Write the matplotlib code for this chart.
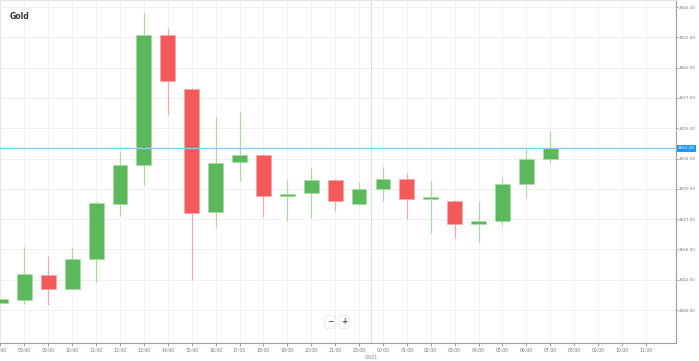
import numpy as np
import matplotlib.pyplot as plt

# --- hourly gold candles ---
hours = ["07:00", "08:00", "09:00", "10:00", "11:00", "12:00", "13:00", "14:00",
         "15:00", "16:00", "17:00", "18:00", "19:00", "20:00", "21:00", "23:00",
         "00:00", "01:00", "02:00", "03:00", "04:00", "05:00", "06:00", "07:00"]
opens = [2640.58, 2640.83, 2642.89, 2641.73, 2644.21, 2648.75, 2651.96, 2662.69,
         2658.23, 2648.09, 2652.21, 2652.79, 2649.41, 2649.65, 2650.73, 2648.75,
         2649.98, 2650.81, 2649.16, 2648.99, 2647.10, 2647.34, 2650.40, 2652.46]
highs = [2640.95, 2645.20, 2644.46, 2645.12, 2648.99, 2653.12, 2664.50, 2663.27,
         2658.30, 2655.92, 2656.34, 2652.85, 2650.73, 2651.72, 2650.80, 2650.56,
         2651.80, 2651.30, 2650.64, 2649.05, 2648.99, 2650.97, 2653.37, 2654.77]
lows = [2640.55, 2640.50, 2640.41, 2641.70, 2642.31, 2647.76, 2650.31, 2656.09,
        2642.48, 2646.85, 2650.64, 2647.67, 2647.34, 2647.59, 2648.17, 2648.70,
        2648.99, 2647.51, 2646.35, 2645.94, 2645.61, 2647.01, 2649.24, 2652.13]
closes = [2640.91, 2642.97, 2641.73, 2644.21, 2648.83, 2651.96, 2662.69, 2658.89,
          2648.00, 2652.13, 2652.79, 2649.41, 2649.57, 2650.73, 2648.99, 2649.98,
          2650.81, 2649.16, 2649.20, 2647.10, 2647.34, 2650.40, 2652.46, 2653.34]
extra_hours = ["08:00", "09:00", "10:00", "11:00"]   # empty slots after the last candle
current_price = 2653.34
day_label = "08/01"
day_break = 15.5                                      # between 23:00 and 00:00
y_ticks = np.arange(2640.0, 2665.01, 2.5)

GREEN, GREEN_LT = "#5cb85c", "#a9dba3"
RED, RED_LT = "#f55a5a", "#f7a8a8"


def draw_candles(ax):
    x = np.arange(len(hours))
    o, h, l, c = map(np.array, (opens, highs, lows, closes))
    up = c >= o
    body_col = np.where(up, GREEN, RED)
    wick_col = np.where(up, GREEN_LT, RED_LT)
    ax.vlines(x, l, h, colors=wick_col, linewidth=0.9, zorder=2)
    bottom = np.minimum(o, c)
    height = np.maximum(np.abs(c - o), 0.18)
    ax.bar(x, height, bottom=bottom, width=0.62, color=body_col,
           edgecolor=wick_col, linewidth=0.6, zorder=3)


def main():
    fig = plt.figure(figsize=(6.99, 3.61), dpi=100)
    ax = fig.add_axes([0.0, 18 / 361, 676 / 699, 343 / 361])

    draw_candles(ax)

    all_labels = hours + extra_hours
    ax.set_xticks(np.arange(len(all_labels)))
    ax.set_xticklabels(all_labels)
    ax.set_xlim(-0.02, 28.26)
    ax.set_ylim(2637.28, 2665.58)
    ax.set_yticks(y_ticks)
    ax.set_yticklabels([f"{v:.2f}" for v in y_ticks])

    ax.yaxis.tick_right()
    ax.tick_params(axis="x", labelsize=3.3, colors="#777777", length=2,
                   width=0.5, pad=1.5)
    ax.tick_params(axis="y", labelsize=3.0, colors="#777777", length=1.5,
                   width=0.5, pad=0.8)
    ax.grid(True, color="#f1f1f1", linewidth=0.7, zorder=0)
    ax.set_axisbelow(True)
    for side in ("top", "left"):
        ax.spines[side].set_color("#e6e6e6")
        ax.spines[side].set_linewidth(0.8)
    for side in ("right", "bottom"):
        ax.spines[side].set_color("#9e9e9e")
        ax.spines[side].set_linewidth(0.8)

    # day separator
    ax.axvline(day_break, color="#e0e0e0", linewidth=0.8, zorder=1)
    ax.annotate(day_label, xy=(day_break, 0), xycoords=("data", "axes fraction"),
                xytext=(0, -8.5), textcoords="offset points", ha="center",
                va="top", fontsize=3.3, color="#888888", annotation_clip=False)

    # current price line + label
    ax.axhline(current_price, color="#90caf9", linewidth=1.0, zorder=4)
    ax.annotate(f"{current_price:.2f}", xy=(1.0, current_price),
                xycoords=("axes fraction", "data"), xytext=(1.5, 0),
                textcoords="offset points", ha="left", va="center",
                fontsize=3.0, color="white", annotation_clip=False,
                bbox=dict(boxstyle="square,pad=0.3", fc="#2196f3", ec="none"))

    ax.text(0.014, 0.965, "Gold", transform=ax.transAxes, fontsize=5.5,
            fontweight="bold", color="#333333", ha="left", va="top")

    # zoom buttons
    for xpos, sym in ((330, "\u2212"), (344, "+")):
        fig.text(xpos / 699, 1 - 322 / 361, sym, ha="center", va="center",
                 fontsize=5.5, fontweight="bold", color="#555555",
                 bbox=dict(boxstyle="round,pad=0.25", fc="white",
                           ec="#e4e4e4", lw=0.5))

    fig.savefig("out.png", dpi=100)


if __name__ == "__main__":
    main()
